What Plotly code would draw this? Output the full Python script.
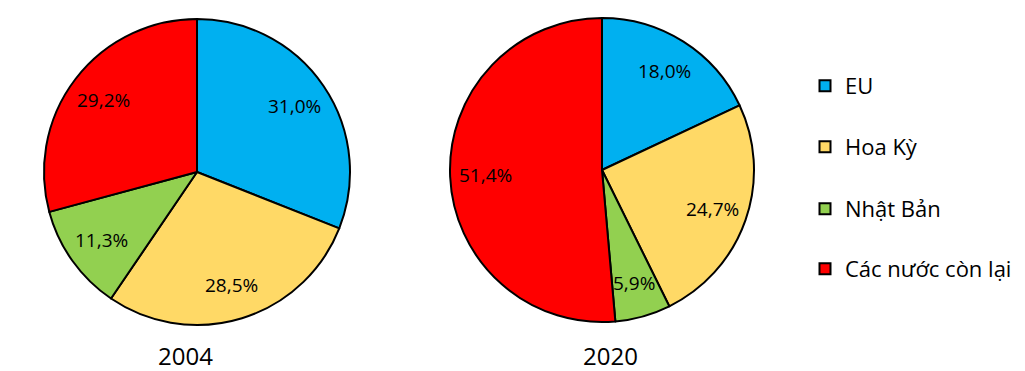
import math
import plotly.graph_objects as go

labels = ["EU", "Hoa Kỳ", "Nhật Bản", "Các nước còn lại"]
values_2004 = [31.0, 28.5, 11.3, 29.2]
values_2020 = [18.0, 24.7, 5.9, 51.4]
years = ["2004", "2020"]
colors = ["#00B0F0", "#FFD966", "#92D050", "#FF0000"]

FONT = "Open Sans"
W, H = 1025, 371

fig = go.Figure()

# pie centres / radii in pixels (layout)
pies = [dict(cx=197, cy=172, r=153), dict(cx=602, cy=170, r=152)]
LABEL_K = 0.77

for vals, p in zip([values_2004, values_2020], pies):
    dom = dict(x=[(p["cx"] - p["r"]) / W, (p["cx"] + p["r"]) / W],
               y=[(H - p["cy"] - p["r"]) / H, (H - p["cy"] + p["r"]) / H])
    fig.add_trace(go.Pie(
        labels=labels,
        values=vals,
        sort=False,
        direction="clockwise",
        rotation=0,
        domain=dom,
        marker=dict(colors=colors, line=dict(color="black", width=2)),
        textinfo="none",
        hoverinfo="label+value",
        showlegend=False,
    ))
    total = sum(vals)
    cum = 0.0
    for v in vals:
        mid = (cum + v / 2) / total * 2 * math.pi
        cum += v
        px = p["cx"] + LABEL_K * p["r"] * math.sin(mid)
        py = p["cy"] - LABEL_K * p["r"] * math.cos(mid)
        fig.add_annotation(
            text=f"{v:.1f}".replace(".", ",") + "%",
            x=px / W, y=(H - py) / H, xref="paper", yref="paper",
            xanchor="center", yanchor="middle", showarrow=False,
            font=dict(family=FONT, size=19, color="black"),
        )

legend_y = [86, 147, 209, 269]
for i, (lab, col) in enumerate(zip(labels, colors)):
    lname = "legend" if i == 0 else f"legend{i + 1}"
    fig.add_trace(go.Scatter(
        x=[None], y=[None], mode="markers", name=lab,
        marker=dict(symbol="square", size=11, color=col, line=dict(color="black", width=2)),
        legend=lname, showlegend=True,
    ))
    fig.update_layout(**{lname: dict(
        x=805 / W, y=(H - legend_y[i]) / H, xanchor="left", yanchor="middle",
        font=dict(family=FONT, size=22, color="black"),
        bgcolor="rgba(0,0,0,0)",
    )})

title_x = [185.5, 610]
for yr, tx in zip(years, title_x):
    fig.add_annotation(
        text=yr, x=tx / W, y=(H - 355) / H, xref="paper", yref="paper",
        xanchor="center", yanchor="middle", showarrow=False,
        font=dict(family=FONT, size=24, color="black"),
    )

fig.update_layout(
    width=W, height=H,
    margin=dict(l=0, r=0, t=0, b=0),
    paper_bgcolor="white", plot_bgcolor="white",
    xaxis=dict(visible=False), yaxis=dict(visible=False),
)

fig.write_html("out.html")
